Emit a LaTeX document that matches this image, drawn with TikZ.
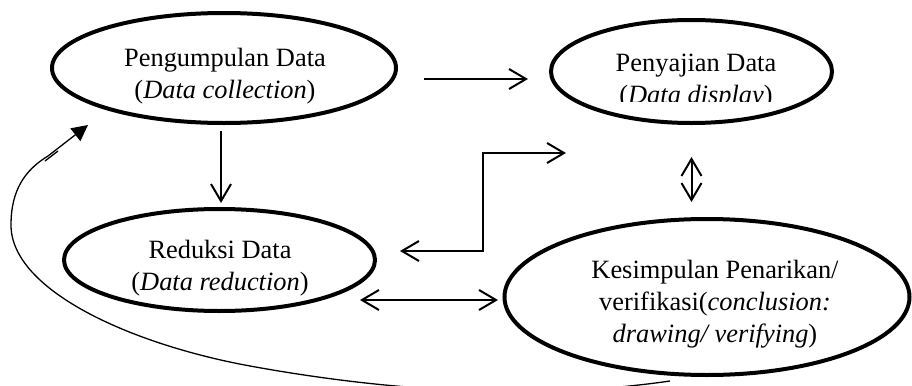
\documentclass[tikz,border=0pt]{standalone}
\usepackage{fontspec}
\setmainfont{Liberation Serif}
\usetikzlibrary{shapes.geometric,arrows.meta}

\begin{document}
\begin{tikzpicture}[
    x=0.5pt, y=-0.5pt,
    oval/.style={
        draw,
        ellipse,
        line width=2pt,
        inner sep=0pt,
        outer sep=0pt
    },
    txt/.style={
        align=center,
        inner sep=0pt,
        font=\fontsize{13.2pt}{16pt}\selectfont
    },
    arr/.style={line width=1pt},
    feedback/.style={line width=0.65pt},
    >={Straight Barb[length=8.5pt,width=10pt]}
]
\useasboundingbox (0,0) rectangle (912,386);

% the four stages
\node[oval, minimum width=172pt, minimum height=55pt] (peng) at (224,68) {};
\node[oval, minimum width=140.5pt, minimum height=51.5pt] (peny) at (691.5,71.5) {};
\node[oval, minimum width=155.5pt, minimum height=51pt] (red) at (219.5,260) {};
\node[oval, minimum width=202.5pt, minimum height=78pt] (kes) at (707,297) {};

\node[txt] (pengtext) at (225,76) {Pengumpulan Data\\(\textit{Data collection})};
\begin{scope}
    \clip (600,40) rectangle (790,101);
    \node[txt] (penytext) at (696,82) {Penyajian Data\\(\textit{Data display})};
\end{scope}
\node[txt] (redtext) at (220,268) {Reduksi Data\\(\textit{Data reduction})};
\node[txt] (kestext) at (715,304) {Kesimpulan Penarikan/\\verifikasi(\textit{conclusion:}\\\textit{drawing/ verifying})};

% arrows
\draw[arr,->] ([xshift=14pt,yshift=-5.5pt]peng.east) -- ([xshift=-11.5pt,yshift=-3.75pt]peny.west);
\draw[arr,->] ([xshift=-1.5pt,yshift=-4pt]peng.south) -- ([xshift=-1.5pt,yshift=3pt]peng.south |- red.north);
\draw[arr,<->] ([xshift=12.5pt,yshift=4.5pt]red.east) -- ++(83,0) |- ([xshift=-62.75pt,yshift=-15pt]peny.south);
\draw[arr,<->] ([yshift=-17pt]peny.south) -- ([yshift=8.5pt]peny.south |- kes.north);
\draw[arr,<->] ([xshift=-7.5pt,yshift=-20pt]red.east) -- ([xshift=-3.25pt,yshift=-1.5pt]kes.west);

% back to data collection
\draw[feedback,-{Triangle[length=8pt,width=8pt]}] ([xshift=-18.5pt,yshift=-3pt]kes.south)
    .. controls (560,397) and (420,397) .. (250,366)
    .. controls (130,344) and (11,290) .. (11,225)
    .. controls (11,190) and (25,170) .. (48,156)
    -- ([xshift=-68pt,yshift=-1pt]peng.south);
\draw[feedback] (45,161) -- (58,151);

\end{tikzpicture}
\end{document}
